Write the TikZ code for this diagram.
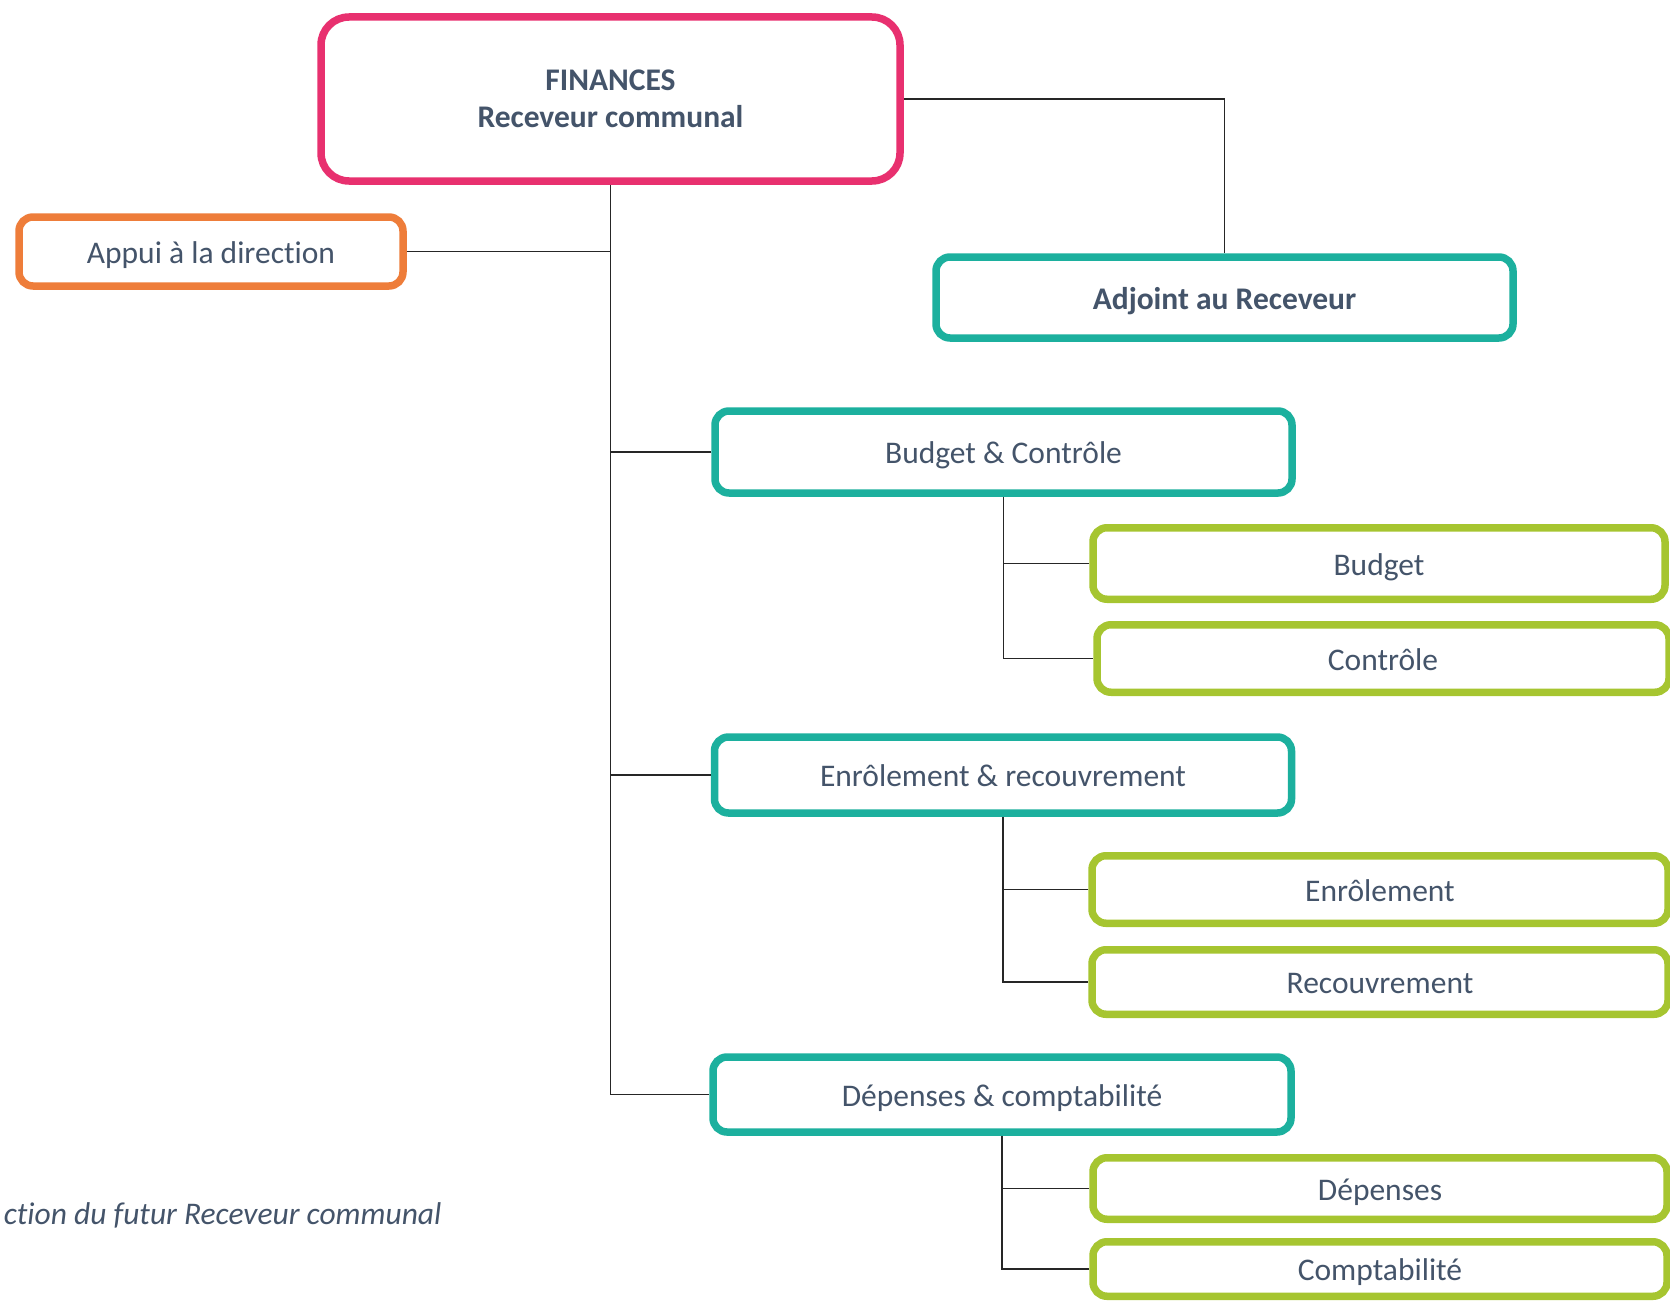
\documentclass[tikz,border=0pt]{standalone}
\usepackage{fontspec}
\setmainfont{Carlito}[Ligatures = NoCommon]
\usepackage{tikz}
\usetikzlibrary{positioning}

\definecolor{finpink}{HTML}{E8306F}
\definecolor{apporange}{HTML}{EE7D3A}
\definecolor{unitteal}{HTML}{1CB09E}
\definecolor{subgreen}{HTML}{A6C530}
\definecolor{txtgrey}{HTML}{44546A}

\begin{document}
\begin{tikzpicture}[
            x = 1pt, y = -1pt, % one unit per pixel, top down
            node distance = 18pt, % gap between sub boxes
            semithick % line style
        ]

        \tikzstyle{every node}=[
            text = txtgrey,
            font = \fontsize{31.5}{37}\selectfont
        ]
        \tikzstyle{unit}=[
            draw,
            line width = 7.5pt,
            fill = white,
            rounded corners = 14pt,
            align = center,
            inner sep = 0pt,
            text height = 23.6pt,
            text depth = 0pt
        ]
        \tikzstyle{link}=[line width = 1.3pt, draw = black!85]

        \useasboundingbox (0,0) rectangle (1670,1303);

	% HEAD OF SERVICE
        \node[unit, draw = finpink, rounded corners = 28pt, minimum width = 579pt, minimum height = 164pt, text height = , text depth = , font = \fontsize{31.5}{37}\selectfont\bfseries] (FIN) at (610.5,99) {FINANCES\\Receveur communal};
        \node[unit, draw = apporange, minimum width = 384pt, minimum height = 69pt] (APP) at (211,251.5) {Appui à la direction};
        \node[unit, draw = unitteal, minimum width = 577pt, minimum height = 81pt, font = \fontsize{31.5}{37}\selectfont\bfseries] (ADJ) at (1224.5,297.5) {Adjoint au Receveur};

	% UNITS
        \node[unit, draw = unitteal, minimum width = 577pt, minimum height = 82pt] (BC) at (1003.5,452) {Budget \& Contrôle};
        \node[unit, draw = unitteal, minimum width = 577pt, minimum height = 76pt] (ER) at (1003,775) {Enrôlement \& recouvrement};
        \node[unit, draw = unitteal, minimum width = 578pt, minimum height = 75pt] (DC) at (1002,1094.5) {Dépenses \& comptabilité};

	% SUB UNITS
        \node[unit, draw = subgreen, minimum width = 572pt, minimum height = 71.5pt] (BUD) at (1379,563.5) {Budget};
        \node[unit, draw = subgreen, minimum width = 572pt, minimum height = 67.5pt, xshift = 4pt] (CTL) [below = of BUD] {Contrôle};
        \node[unit, draw = subgreen, minimum width = 576pt, minimum height = 67.5pt] (ENR) at (1380,889.5) {Enrôlement};
        \node[unit, draw = subgreen, minimum width = 576pt, minimum height = 64.5pt] (REC) [below = 19pt of ENR] {Recouvrement};
        \node[unit, draw = subgreen, minimum width = 574pt, minimum height = 61.5pt] (DEP) at (1380,1188.5) {Dépenses};
        \node[unit, draw = subgreen, minimum width = 574pt, minimum height = 54.5pt] (CPT) [below = 15pt of DEP] {Comptabilité};

	% CAPTION
        \node[anchor = east, font = \fontsize{31.5}{37}\selectfont\itshape] (CAP) at (445,1215) {ction du futur Receveur communal};

	% LINKS
        \draw[link] (FIN.south) |- (DC.west);
        \draw[link] (APP.east) -- (APP.east -| FIN.south);
        \draw[link] (BC.west) -- (BC.west -| FIN.south);
        \draw[link] (ER.west) -- (ER.west -| FIN.south);
        \draw[link] (FIN.east) -| (ADJ.north);

        \draw[link] (BC.south) |- (CTL.west);
        \draw[link] (BUD.west) -- (BUD.west -| BC.south);
        \draw[link] (ER.south) |- (REC.west);
        \draw[link] (ENR.west) -- (ENR.west -| ER.south);
        \draw[link] (DC.south) |- (CPT.west);
        \draw[link] (DEP.west) -- (DEP.west -| DC.south);

  \end{tikzpicture}
\end{document}
